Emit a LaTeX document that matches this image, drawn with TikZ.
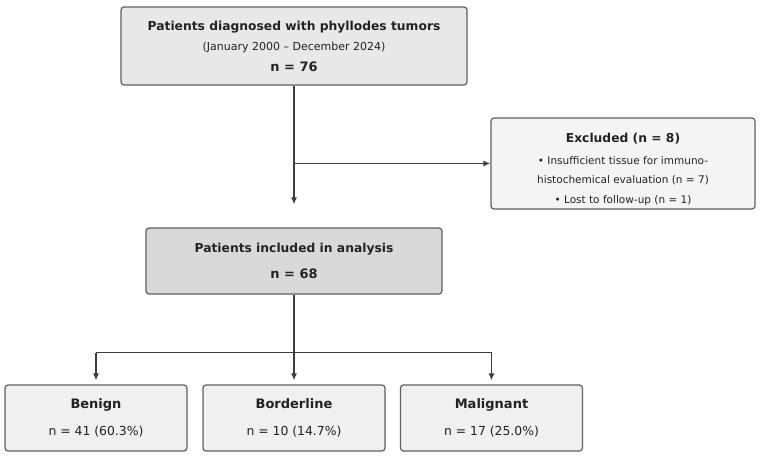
\documentclass[tikz,border=0pt]{standalone}
\usepackage{fontspec}
\setmainfont{DejaVu Sans}
\usetikzlibrary{arrows.meta}
\definecolor{boxline}{RGB}{95,95,95}
\definecolor{flowline}{RGB}{60,60,60}
\definecolor{textdark}{RGB}{34,34,34}
\definecolor{topfill}{RGB}{232,232,232}
\definecolor{exclfill}{RGB}{244,244,244}
\definecolor{inclfill}{RGB}{217,217,217}
\definecolor{groupfill}{RGB}{240,240,240}
\newcommand{\ttlfont}{\fontsize{12.3}{14}\selectfont\bfseries}
\newcommand{\nbigfont}{\fontsize{13}{15}\selectfont\bfseries}
\newcommand{\smlfont}{\fontsize{10.5}{12}\selectfont}

\begin{document}
\begin{tikzpicture}[x=1pt, y=-1pt, >={Latex[length=7pt, width=6pt]},
    box/.style={draw=boxline, line width=1.2pt, rounded corners=3pt, align=center, inner sep=0pt, text=textdark},
    group/.style={box, fill=groupfill, minimum width=182, minimum height=66},
    flow/.style={draw=flowline, line width=1.4pt}]
    \useasboundingbox (0,0) rectangle (763,458);
    % boxes
    \node[box, fill=topfill, minimum width=346, minimum height=78] (diag) at (294,46)
      {{\ttlfont Patients diagnosed with phyllodes tumors}\\[8.5pt]
       {\fontsize{11}{13}\selectfont (January 2000 -- December 2024)}\\[8.5pt]
       {\nbigfont n = 76}};
    \node[box, fill=exclfill, minimum width=264, minimum height=91] (excl) at (623,163.5)
      {{\ttlfont\rule{0pt}{22pt}Excluded (n = 8)}\\[10pt]
       {\smlfont • Insufficient tissue for immuno-}\\[7pt]
       {\smlfont histochemical evaluation (n = 7)}\\[8pt]
       {\smlfont • Lost to follow-up (n = 1)}};
    \node[box, fill=inclfill, minimum width=296, minimum height=66] (incl) at (294,261)
      {{\ttlfont Patients included in analysis}\\[13pt]
       {\nbigfont n = 68}};
    \node[group] (benign) at (96,418)
      {{\nbigfont Benign\vphantom{g}}\\[14pt] {\fontsize{12.4}{14}\selectfont n = 41 (60.3\%)}};
    \node[group] (border) at (294,418)
      {{\nbigfont Borderline\vphantom{g}}\\[14pt] {\fontsize{12.4}{14}\selectfont n = 10 (14.7\%)}};
    \node[group] (malig) at (491.5,418)
      {{\nbigfont Malignant\vphantom{g}}\\[14pt] {\fontsize{12.4}{14}\selectfont n = 17 (25.0\%)}};
    % connectors
    \draw[flow, ->, shorten >=23pt] (diag.south) -- (incl.north);
    \draw[flow, ->] (diag.south |- excl.west) -- (excl.west);
    \draw[flow] (incl.south) -- ++(0,58) coordinate (split);
    \draw[flow] (split -| benign.north) -- (split -| malig.north);
    \foreach \grp in {benign, border, malig}
      \draw[flow, ->, shorten >=4pt] (split -| \grp.north) -- (\grp.north);
  \end{tikzpicture}
\end{document}
